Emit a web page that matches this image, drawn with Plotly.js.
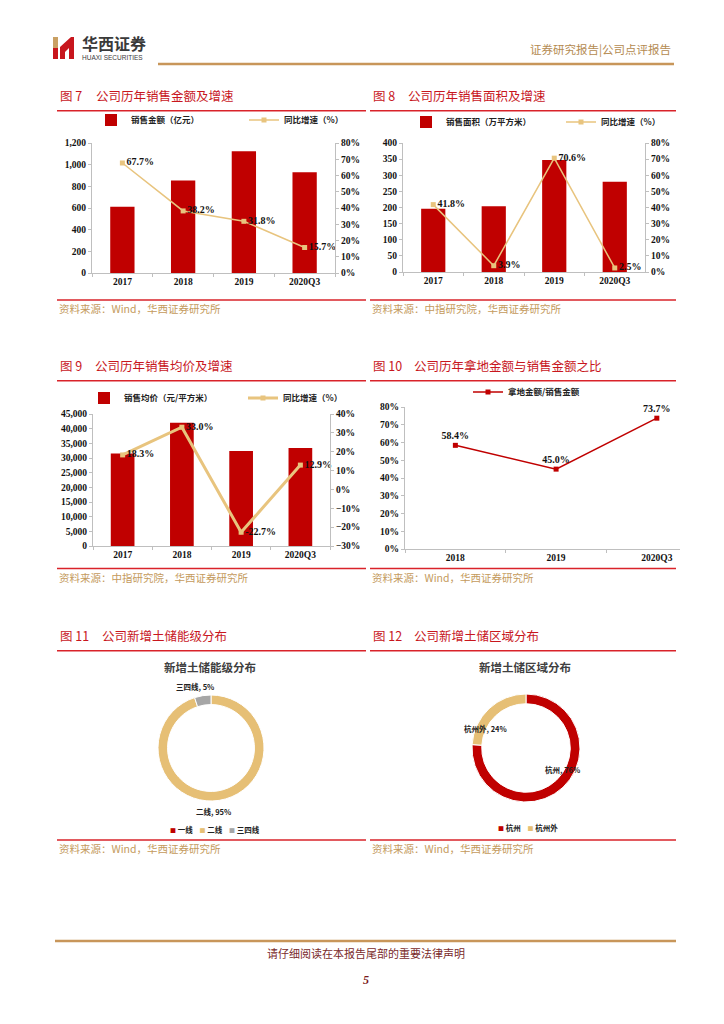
<!DOCTYPE html>
<html><head><meta charset="utf-8">
<script src="https://cdn.plot.ly/plotly-3.0.1.min.js"></script>
<style>html,body{margin:0;padding:0;background:#fff;} #page{width:724px;height:1024px;}</style>
</head><body><div id="page"></div>
<script>
// ---------------- data ----------------
const c7Categories = ['2017','2018','2019','2020Q3'];
const c7Sales = [612, 853, 1123, 931];           // 销售金额（亿元）
const c7Growth = [0.677, 0.382, 0.318, 0.157];   // 同比增速
const c7Labels = ['67.7%','38.2%','31.8%','15.7%'];

const c8Categories = ['2017','2018','2019','2020Q3'];
const c8Area = [196, 204, 347, 280];             // 销售面积（万平方米）
const c8Growth = [0.418, 0.039, 0.706, 0.025];
const c8Labels = ['41.8%','3.9%','70.6%','2.5%'];

const c9Categories = ['2017','2018','2019','2020Q3'];
const c9Price = [31560, 42040, 32350, 33380];    // 销售均价（元/平方米）
const c9Growth = [0.183, 0.330, -0.227, 0.129];
const c9Labels = ['18.3%','33.0%','-22.7%','12.9%'];

const c10Categories = ['2018','2019','2020Q3'];
const c10Ratio = [0.584, 0.450, 0.737];          // 拿地金额/销售金额
const c10Labels = ['58.4%','45.0%','73.7%'];

const c11Labels = ['一线','二线','三四线'];
const c11Values = [0, 95, 5];

const c12Labels = ['杭州','杭州外'];
const c12Values = [76, 24];

// ---------------- helpers ----------------
const W = 724, H = 1024;
const X = p => p / W, Y = p => 1 - p / H;
const CJK = '"Noto Sans CJK SC", "Noto Sans", sans-serif';
const SERIF = '"Liberation Serif", "DejaVu Serif", serif';
const RED = '#C00000', GOLD = '#E8C47E', TAN = '#E6BF75', GREY = '#A6A6A6', AX = '#BFBFBF';
const TITLE_RED = '#C8161D', LINE_RED = '#D9232A', SRC = '#C49A5C';
const c11Colors = [RED, TAN, GREY];
const c12Colors = [RED, TAN];

const tickFont = {family: SERIF, size: 9.5, color: '#111', weight: 'bold'};
const labFont = {family: SERIF, size: 10, color: '#111', weight: 'bold'};
const legFont = {family: CJK, size: 8.5, color: '#222', weight: 'bold'};

function xAx(domain, anchor, extra) {
  return Object.assign({domain: domain.map(X), anchor: anchor, type: 'category',
    showline: true, linecolor: AX, linewidth: 1, ticks: 'outside', tickson: 'boundaries',
    ticklen: 3, tickcolor: AX, showgrid: false, zeroline: false, tickfont: tickFont, fixedrange: true}, extra || {});
}
function yAx(domain, anchor, extra) {
  const o = {anchor: anchor, showline: true, linecolor: AX, linewidth: 1, ticks: 'outside',
    ticklen: 3, tickcolor: AX, showgrid: false, zeroline: false, tickfont: tickFont, fixedrange: true};
  if (domain) o.domain = [Y(domain[1]), Y(domain[0])];
  return Object.assign(o, extra || {});
}

// ---------------- traces ----------------
const traces = [];
function barLine(cats, bars, barName, growth, labels, xa, ya, ya2, leg, lw) {
  traces.push({type: 'bar', x: cats, y: bars, name: barName, xaxis: xa, yaxis: ya,
    marker: {color: RED}, width: 0.4, legend: leg, hoverinfo: 'skip'});
  traces.push({type: 'scatter', mode: 'lines+markers+text', x: cats, y: growth, name: '同比增速（%）',
    xaxis: xa, yaxis: ya2, line: {color: GOLD, width: lw}, marker: {symbol: 'square', size: 5, color: GOLD},
    text: labels, textposition: 'middle right', textfont: labFont, cliponaxis: false, legend: leg, hoverinfo: 'skip'});
}
barLine(c7Categories, c7Sales, '销售金额（亿元）', c7Growth, c7Labels, 'x', 'y', 'y2', 'legend', 1.5);
barLine(c8Categories, c8Area, '销售面积（万平方米）', c8Growth, c8Labels, 'x2', 'y3', 'y4', 'legend2', 1.5);
barLine(c9Categories, c9Price, '销售均价（元/平方米）', c9Growth, c9Labels, 'x3', 'y5', 'y6', 'legend3', 3);

traces.push({type: 'scatter', mode: 'lines+markers+text', x: c10Categories, y: c10Ratio,
  name: '拿地金额/销售金额', xaxis: 'x4', yaxis: 'y7', line: {color: RED, width: 1.5},
  marker: {symbol: 'square', size: 5, color: RED}, text: c10Labels, textposition: 'top center',
  textfont: labFont, cliponaxis: false, legend: 'legend4', hoverinfo: 'skip'});

traces.push({type: 'pie', labels: c11Labels, values: c11Values, hole: 0.82, sort: false,
  direction: 'clockwise', rotation: 0, textinfo: 'none', hoverinfo: 'skip', showlegend: false,
  marker: {colors: c11Colors, line: {color: '#fff', width: 1}},
  domain: {x: [X(158), X(264)], y: [Y(801), Y(695)]}});
traces.push({type: 'pie', labels: c12Labels, values: c12Values, hole: 0.82, sort: false,
  direction: 'clockwise', rotation: 0, textinfo: 'none', hoverinfo: 'skip', showlegend: false,
  marker: {colors: c12Colors, line: {color: '#fff', width: 1}},
  domain: {x: [X(472), X(580)], y: [Y(802), Y(694)]}});

// ---------------- shapes ----------------
const shapes = [];
function hline(x0, x1, y, color, w) {
  shapes.push({type: 'line', xref: 'paper', yref: 'paper', x0: X(x0), x1: X(x1), y0: Y(y), y1: Y(y),
    line: {color: color, width: w}});
}
hline(158, 674, 64, '#C8965A', 2.5);   // header rule
hline(55, 676, 941, '#C8965A', 2.5);   // footer rule
[110.7, 380.7, 650.7].forEach(y => { hline(57, 366, y, LINE_RED, 1.5); hline(370, 676, y, LINE_RED, 1.5); });
[300, 568.5, 840].forEach(y => { hline(57, 366, y, LINE_RED, 1.3); hline(370, 676, y, LINE_RED, 1.3); });
// logo
function pth(pts, color) {
  let d = 'M ' + pts.map(p => X(p[0]) + ',' + Y(p[1])).join(' L ') + ' Z';
  shapes.push({type: 'path', xref: 'paper', yref: 'paper', path: d, fillcolor: color, line: {width: 0}});
}
pth([[53,37],[58,37],[58,48],[53,48]], '#C9A063');
pth([[53,48],[58,48],[58,59],[53,59]], '#C8161D');
pth([[60,59],[60,47],[71,37],[74,37],[74,59],[69,59],[69,48],[65,52],[65,59]], '#C8161D');

// ---------------- annotations ----------------
const ann = [];
function txt(x, y, t, font, xanchor) {
  ann.push({xref: 'paper', yref: 'paper', x: X(x), y: Y(y), text: t, showarrow: false,
    xanchor: xanchor || 'left', yanchor: 'middle', font: font});
}
txt(80, 43, '华西证券', {family: CJK, size: 16, color: '#3A3A3A', weight: 'bold'});
txt(80, 57, 'HUAXI SECURITIES', {family: '"Liberation Sans", sans-serif', size: 6.5, color: '#3A3A3A'});
txt(673, 49, '证券研究报告|公司点评报告', {family: CJK, size: 11.5, color: '#B48A50'}, 'right');

const tF = {family: CJK, size: 12.5, color: TITLE_RED};
txt(58, 95, '图 7', tF);  txt(94, 95, '公司历年销售金额及增速', tF);
txt(371, 95, '图 8', tF); txt(406, 95, '公司历年销售面积及增速', tF);
txt(58, 365, '图 9', tF); txt(93, 365, '公司历年销售均价及增速', tF);
txt(371, 365, '图 10', tF); txt(412, 365, '公司历年拿地金额与销售金额之比', tF);
txt(58, 635, '图 11', tF); txt(100, 635, '公司新增土储能级分布', tF);
txt(371, 635, '图 12', tF); txt(412, 635, '公司新增土储区域分布', tF);

const sF = {family: CJK, size: 10.5, color: SRC};
txt(57, 308, '资料来源：Wind，华西证券研究所', sF);
txt(370, 308, '资料来源：中指研究院，华西证券研究所', sF);
txt(57, 577, '资料来源：中指研究院，华西证券研究所', sF);
txt(370, 577, '资料来源：Wind，华西证券研究所', sF);
txt(57, 848, '资料来源：Wind，华西证券研究所', sF);
txt(370, 848, '资料来源：Wind，华西证券研究所', sF);

const pT = {family: CJK, size: 11.5, color: '#404040', weight: 'bold'};
txt(210, 667, '新增土储能级分布', pT, 'center');
txt(525, 667, '新增土储区域分布', pT, 'center');
const pL = {family: CJK, size: 7.5, color: '#222', weight: 'bold'};
txt(195, 686, c11Labels[2] + ', ' + c11Values[2] + '%', pL, 'center');
txt(213, 811, c11Labels[1] + ', ' + c11Values[1] + '%', pL, 'center');
txt(485, 728, c12Labels[1] + ', ' + c12Values[1] + '%', pL, 'center');
txt(562, 769, c12Labels[0] + ', ' + c12Values[0] + '%', pL, 'center');

// pie legends (compact, like the reference)
function pieLegend(labels, colors) {
  return labels.map((l, i) => '<span style="color:' + colors[i] + ';font-size:6px">■</span> ' + l).join('&nbsp;&nbsp;&nbsp;&nbsp;');
}
txt(215, 829, pieLegend(c11Labels, c11Colors), pL, 'center');
txt(528, 827, pieLegend(c12Labels, c12Colors), pL, 'center');

txt(366, 953, '请仔细阅读在本报告尾部的重要法律声明', {family: CJK, size: 11, color: '#7A2A2A'}, 'center');
txt(366, 980, '<b><i>5</i></b>', {family: SERIF, size: 12, color: '#7A1A1A'}, 'center');

// ---------------- legends ----------------
function leg(x, y, anchor, extra) {
  return Object.assign({xref: 'container', yref: 'container', x: X(x), y: Y(y), xanchor: anchor, yanchor: 'middle', orientation: 'h',
    font: legFont, bgcolor: 'rgba(0,0,0,0)', borderwidth: 0, itemclick: false, itemdoubleclick: false}, extra || {});
}

const layout = {
  width: W, height: H, margin: {l: 0, r: 0, t: 0, b: 0, autoexpand: false}, autosize: false,
  paper_bgcolor: '#fff', plot_bgcolor: 'rgba(0,0,0,0)', showlegend: true, barmode: 'group',
  xaxis: xAx([92, 335], 'y'),
  yaxis: yAx([143, 273], 'x', {range: [0, 1200], dtick: 200, tickformat: ','}),
  yaxis2: yAx(null, 'x', {overlaying: 'y', side: 'right', range: [0, 0.8], dtick: 0.1, tickformat: '.0%'}),
  xaxis2: xAx([403, 645], 'y3'),
  yaxis3: yAx([143, 272], 'x2', {range: [0, 400], dtick: 50}),
  yaxis4: yAx(null, 'x2', {overlaying: 'y3', side: 'right', range: [0, 0.8], dtick: 0.1, tickformat: '.0%'}),
  xaxis3: xAx([93, 330], 'y5'),
  yaxis5: yAx([414, 546], 'x3', {range: [0, 45000], dtick: 5000, tickformat: ','}),
  yaxis6: yAx(null, 'x3', {overlaying: 'y5', side: 'right', range: [-0.3, 0.4], dtick: 0.1, tickformat: '.0%'}),
  xaxis4: xAx([405, 680], 'y7', {range: [-0.5, 2.23], autorange: false}),
  yaxis7: yAx([407, 549], 'x4', {range: [0, 0.8], dtick: 0.1, tickformat: '.0%'}),
  legend: leg(91, 120, 'left', {entrywidth: 108}),
  legend2: leg(406, 122, 'left', {entrywidth: 110}),
  legend3: leg(84, 398, 'left', {entrywidth: 114}),
  legend4: leg(468, 392, 'left'),
  shapes: shapes, annotations: ann
};

Plotly.newPlot('page', traces, layout, {displayModeBar: false, staticPlot: true});
</script></body></html>
